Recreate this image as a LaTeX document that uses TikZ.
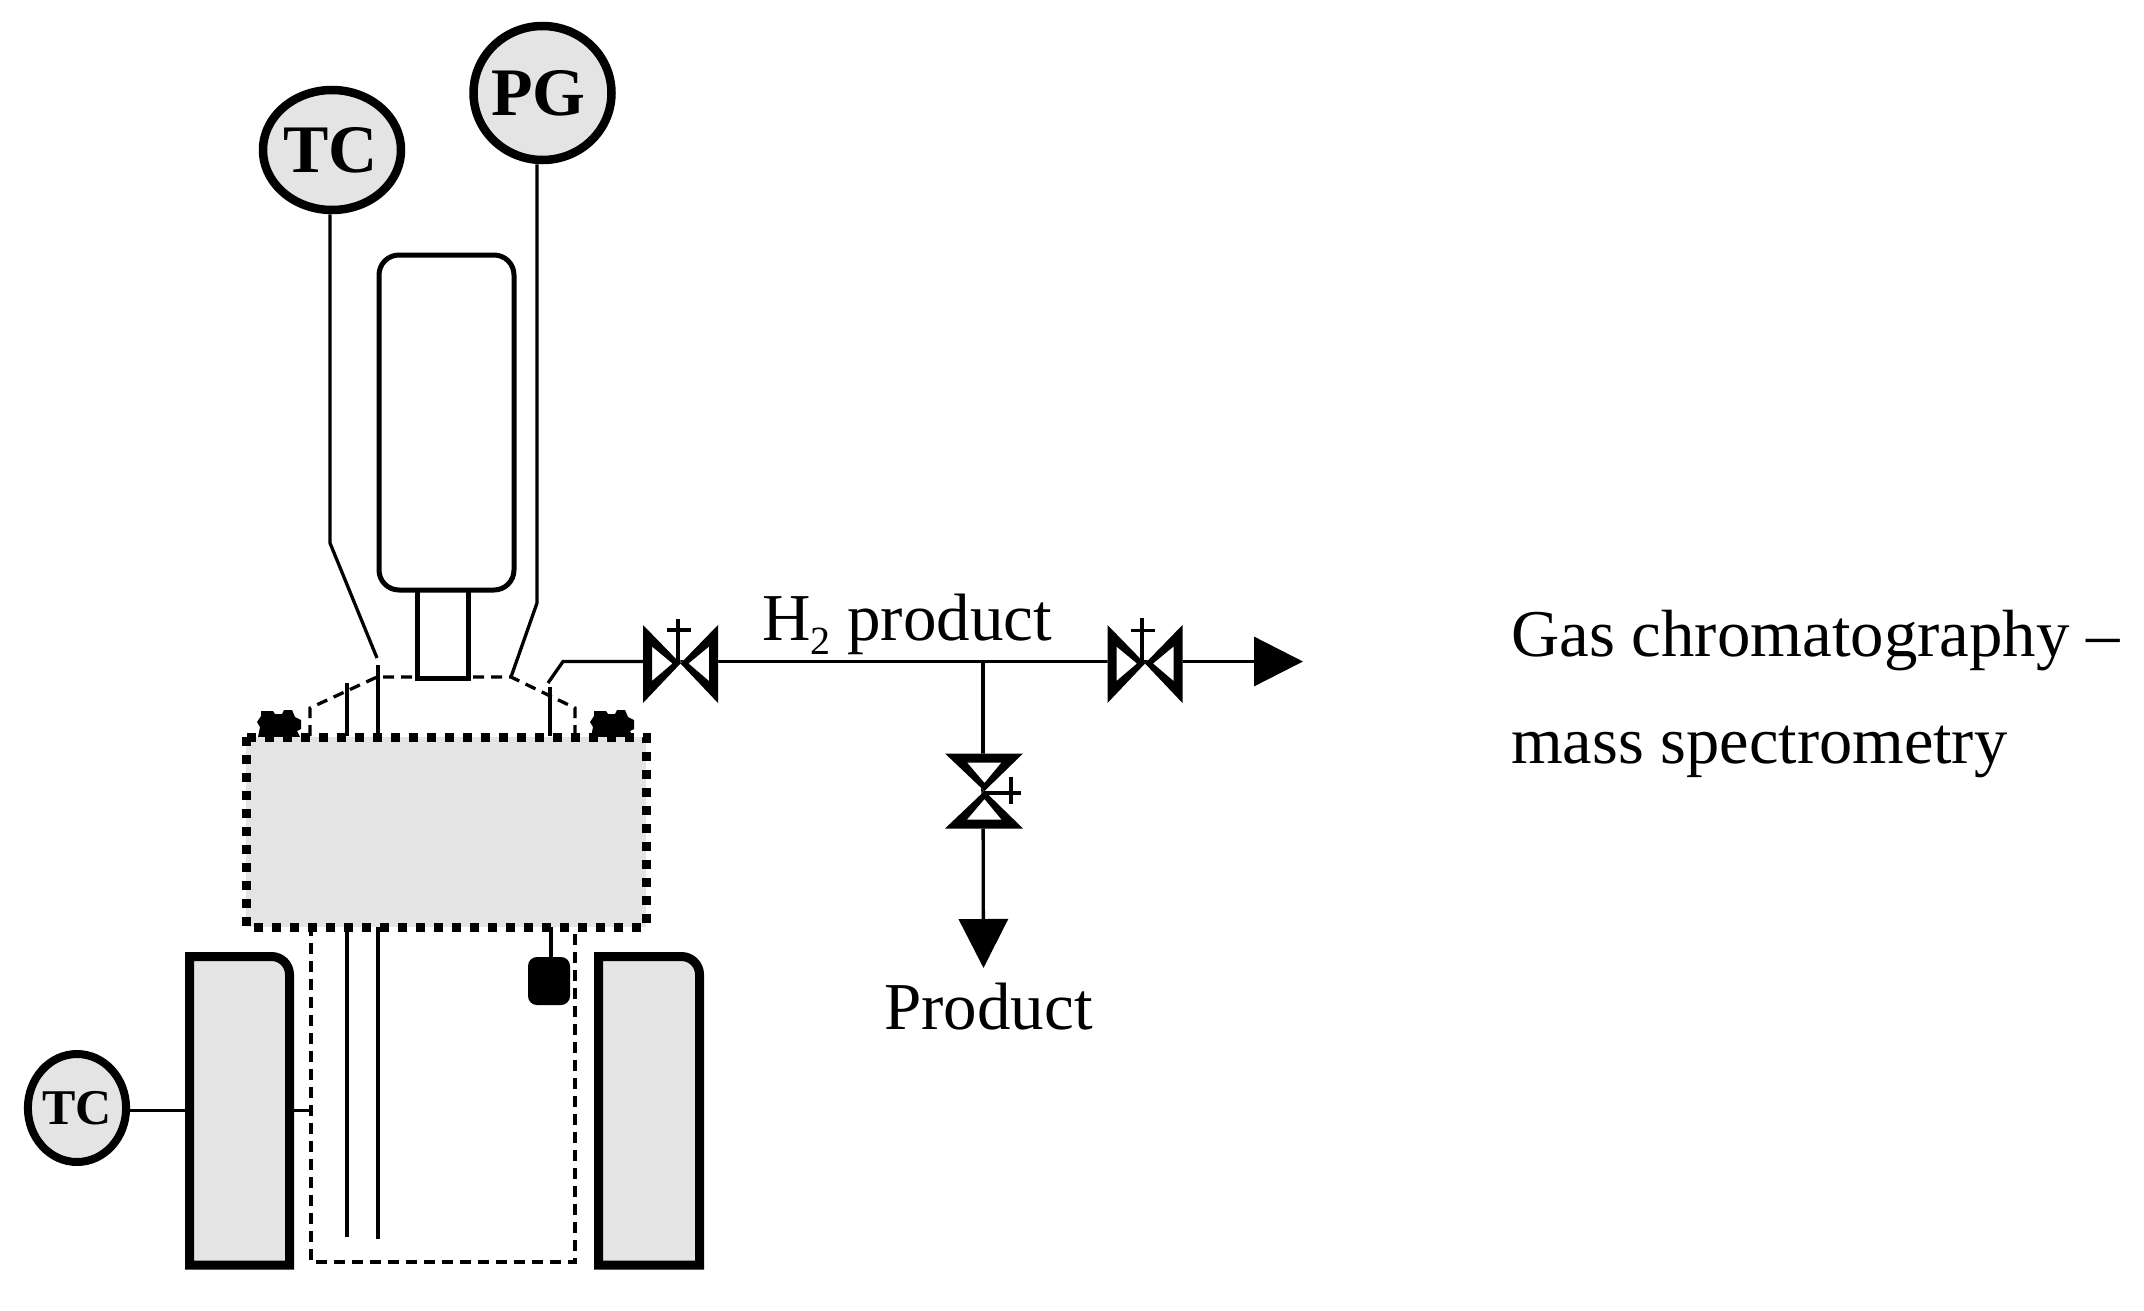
\documentclass[tikz,border=0pt]{standalone}
\usepackage{fontspec}
\setmainfont{Liberation Serif}
\usetikzlibrary{shapes.geometric,arrows.meta}
\definecolor{panel}{HTML}{E5E4E5}
\tikzset{
  x=1pt,y=-1pt,
  pipe/.style={line width=3.3pt,draw=black},
  gauge/.style={ellipse,draw=black,fill=panel,line width=8.5pt,inner sep=0pt,font=\bfseries},
  dashline/.style={line width=3.3pt,draw=black,dash pattern=on 11pt off 7pt},
  dotline/.style={line width=9pt,draw=black,fill=panel,dash pattern=on 9pt off 9pt},
  furnace/.style={line width=9pt,draw=black,fill=panel,miter limit=10},
  stem/.style={line width=3.3pt,draw=black},
  label/.style={anchor=base west,inner sep=0pt,font=\fontsize{67}{67}\selectfont},
  tip/.style={-{Triangle[length=49pt,width=49pt]}},
  valve/.pic={
    \fill[white] (-37.5,-38.5) -- (0,0) -- (37.5,-38.5) -- (37.5,39.5) -- (0,0) -- (-37.5,39.5) -- cycle;
    \fill[black,even odd rule] (-37.5,-38.5) -- (0,0) -- (37.5,-38.5) -- (37.5,39.5) -- (0,0) -- (-37.5,39.5) -- cycle
      (-28.5,-17) -- (-28.5,17.5) -- (-8,0) -- cycle
      (28.5,-17) -- (28.5,17.5) -- (8,0) -- cycle;
  },
  seal/.pic={
    \fill[black] (3,2) -- (15,2) -- (17,5) -- (24,5) -- (26,1) -- (34,1) -- (37,8) -- (43,11) -- (43,20) -- (39,22) -- (42,28) -- (0,28) -- (2,18) -- (-1,13) -- (3,7) -- cycle;
  }
}
\begin{document}
\begin{tikzpicture}
\useasboundingbox (0,0) rectangle (2144,1311);
\fill[white] (0,0) rectangle (2144,1311);

% named points
\coordinate (hoodLb) at (310,736);
\coordinate (hoodLs) at (310,708);
\coordinate (hoodTl) at (377,677);
\coordinate (hoodTr) at (511,677);
\coordinate (hoodRs) at (575,708);
\coordinate (hoodRb) at (575,736);
\coordinate (v1) at (680.5,663.5);
\coordinate (v2) at (1145,663.5);
\coordinate (v3) at (984.5,791);
\coordinate (tee) at (983,661.5);
\coordinate (outTip) at (1303,661.5);
\coordinate (prodTip) at (983.5,968);
\coordinate (furnLw) at (189.5,1110.5);
\coordinate (furnLe) at (289.5,1110.5);
\coordinate (vesselL) at (311,1110.5);

% gauges
\node[gauge,minimum width=138pt,minimum height=120pt,font=\bfseries\fontsize{68}{68}\selectfont] (tc1) at (332,150) {\kern-3pt TC};
\node[gauge,minimum width=138pt,minimum height=134pt,font=\bfseries\fontsize{68}{68}\selectfont] (pg) at (542.5,93) {\kern-8pt PG};
\node[gauge,line width=8pt,minimum width=98pt,minimum height=108pt,font=\bfseries\fontsize{50}{50}\selectfont] (tc2) at (77,1108) {TC};

% instrument lines
\draw[pipe] (tc1.south -| 330,0) -- (330,543) -- (377,658);
\draw[pipe] (pg.south -| 537,0) -- (537,603) -- (hoodTr);

% dashed vessel + hood
\draw[dashline] (hoodLb) -- (hoodLs) -- (hoodTl) -- (hoodTr) -- (hoodRs) -- (hoodRb);
\draw[dashline] (311,925) -- (311,1262) -- (575,1262) -- (575,925);

% internals
\draw[pipe] (347,683) -- (347,736);
\draw[pipe] (378,665) -- (378,736);
\draw[pipe] (550,687) -- (550,736);
\draw[pipe] (347,925) -- (347,1237);
\draw[pipe] (378,925) -- (378,1239);

% seals
\pic at (258,709) {seal};
\pic at (591,709) {seal};

% reactor
\draw[dotline] (246,737) rectangle (646,927);
\node[fill=black,rounded corners=9pt,minimum width=42pt,minimum height=48pt,inner sep=0pt] (probe) at (549,981) {};
\draw[pipe] (551,927) -- (probe.north -| 551,0);

% condenser
\draw[draw=black,line width=5pt,fill=white,miter limit=10] (417,589) -- (417,678) -- (468,678) -- (468,589);
\node[draw=black,line width=5pt,fill=white,rounded corners=20pt,minimum width=135pt,minimum height=335pt,inner sep=0pt] (cond) at (446.5,422.5) {};

% furnaces
\draw[furnace] (189.5,1265) -- (189.5,956.5) [rounded corners=18pt] -- (289.5,956.5) [sharp corners] -- (289.5,1265) -- cycle;
\draw[furnace] (598.5,1265) -- (598.5,956.5) [rounded corners=18pt] -- (699.5,956.5) [sharp corners] -- (699.5,1265) -- cycle;
\draw[pipe] (tc2.east |- furnLw) -- (furnLw);
\draw[pipe] (furnLe) -- (vesselL);

% process lines
\draw[pipe] (548,683) -- (563,661.5) -- (v1 |- tee);
\draw[pipe] (v1 |- tee) -- (tee);
\draw[pipe] (tee) -- (v2 |- tee);
\draw[pipe,tip] (v2 |- tee) -- (outTip);
\draw[pipe] (tee) -- (v3 -| tee);
\draw[pipe,tip] (v3 -| tee) -- (prodTip);

% valves
\pic at (v1) {valve};
\pic at (v2) {valve};
\pic[rotate=-90] at (v3) {valve};
\draw[stem] (678,663) -- (678,619) (667,630) -- (691,630);
\draw[stem] (1142,663) -- (1142,618) (1131,630.5) -- (1155,630.5);
\draw[stem] (984.5,793) -- (1021,793) (1011,777) -- (1011,804);

% text
\node[label] (h2) at (762,640) {H\raisebox{-14pt}{\fontsize{40}{40}\selectfont 2} product};
\node[label] (prod) at (884,1029) {Product};
\node[label,font=\fontsize{66.8}{67}\selectfont] (gc1) at (1511,656) {Gas chromatography –};
\node[label,font=\fontsize{66.4}{67}\selectfont] (gc2) at (1511,763) {mass spectrometry};
\end{tikzpicture}
\end{document}
